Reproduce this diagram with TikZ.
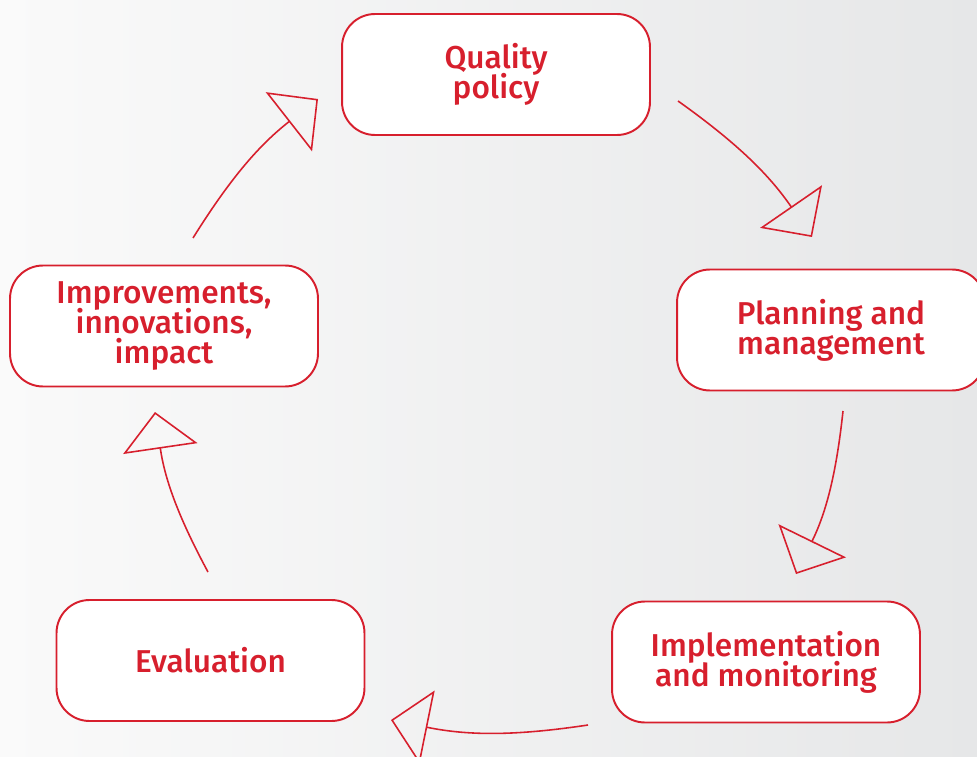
\documentclass[tikz,border=0pt]{standalone}
\usepackage{fontspec}
\setmainfont{Fira Sans}[BoldFont={Fira Sans Medium}]
\usetikzlibrary{arrows.meta}
\newcommand\stagefont{\fontsize{18}{17}\selectfont\bfseries\setlength{\lineskiplimit}{-20pt}}

\begin{document}
\begin{tikzpicture}[x=0.02cm,y=-0.02cm,
  stage/.style={draw=qred,line width=1.1pt,fill=white,rounded corners=0.66cm,
    minimum width=6.16cm,minimum height=2.42cm,align=center,text=qred,
    font=\stagefont},
  cyclearrow/.style={draw=qred,line width=0.9pt,bend left=10,
    -{Triangle[open,length=0.74cm,width=1.5cm]}}]
\definecolor{qred}{HTML}{D71F2D}
\definecolor{paleleft}{HTML}{FAFAFA}
\definecolor{paleright}{HTML}{E6E7E8}
\useasboundingbox (0,0) rectangle (977,757);
\shade[left color=paleleft,right color=paleright] (0,0) rectangle (977,757);
  \foreach \nm/\px/\py/\txt in {quality/496/74.5/{Quality\\policy},
      planning/831/330/{Planning and\\management},
      implementation/766/662/{Implementation\\and monitoring},
      evaluation/210.5/660.5/{Evaluation},
      improvements/164/326/{Improvements,\\innovations,\\impact}}
  {  \node [stage] (\nm) at (\px,\py) {\txt};}
% loose ends of the curved arrows
\coordinate (impr-out) at (193,238);
\coordinate (qual-in) at (318,99);
\coordinate (qual-out) at (678,101);
\coordinate (plan-in) at (812,237);
\coordinate (plan-out) at (843,411);
\coordinate (impl-in) at (796,574);
\coordinate (impl-out) at (588,725);
\coordinate (eval-in) at (391,720);
\coordinate (eval-out) at (208,572);
\coordinate (impr-in) at (155,412);
  \foreach \from/\to in {impr-out/qual-in,qual-out/plan-in,plan-out/impl-in,
      impl-out/eval-in,eval-out/impr-in}
  {  \draw [cyclearrow] (\from) to (\to);}
\end{tikzpicture}
\end{document}
